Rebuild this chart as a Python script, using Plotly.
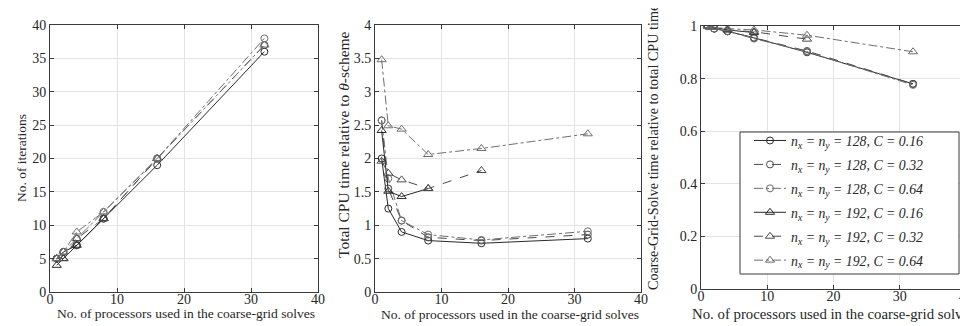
import plotly.graph_objects as go

# ---- data ----
procs = [1, 2, 4, 8, 16, 32]

labels = [
    "<i>n<sub>x</sub> = n<sub>y</sub> = 128, C = 0.16</i>",
    "<i>n<sub>x</sub> = n<sub>y</sub> = 128, C = 0.32</i>",
    "<i>n<sub>x</sub> = n<sub>y</sub> = 128, C = 0.64</i>",
    "<i>n<sub>x</sub> = n<sub>y</sub> = 192, C = 0.16</i>",
    "<i>n<sub>x</sub> = n<sub>y</sub> = 192, C = 0.32</i>",
    "<i>n<sub>x</sub> = n<sub>y</sub> = 192, C = 0.64</i>",
]

iters_128_016 = [5, 6, 7, 11, 19, 36]
iters_128_032 = [5, 6, 7, 11, 20, 37]
iters_128_064 = [5, 6, 8, 12, 20, 38]
iters_192_016 = [4, 5, 7, 11]
iters_192_032 = [5, 5, 8, 11, 20]
iters_192_064 = [5, 6, 9, 12, 20, 37]

cpu_128_016 = [2.00, 1.25, 0.90, 0.77, 0.73, 0.80]
cpu_128_032 = [2.57, 1.55, 1.07, 0.82, 0.77, 0.86]
cpu_128_064 = [2.57, 1.70, 1.07, 0.86, 0.78, 0.91]
cpu_192_016 = [2.42, 1.51, 1.43, 1.55]
cpu_192_032 = [1.96, 1.78, 1.68, 1.55, 1.82]
cpu_192_064 = [3.48, 2.49, 2.44, 2.06, 2.15, 2.37]

cgs_128_016 = [1.00, 0.99, 0.98, 0.955, 0.900, 0.780]
cgs_128_032 = [1.00, 0.99, 0.98, 0.955, 0.905, 0.780]
cgs_128_064 = [1.00, 0.99, 0.98, 0.952, 0.902, 0.776]
cgs_192_016 = [1.00, 0.995, 0.985, 0.975]
cgs_192_032 = [1.00, 0.995, 0.985, 0.978, 0.950]
cgs_192_064 = [1.00, 0.995, 0.99, 0.985, 0.965, 0.902]

panels = [
    [iters_128_016, iters_128_032, iters_128_064, iters_192_016, iters_192_032, iters_192_064],
    [cpu_128_016, cpu_128_032, cpu_128_064, cpu_192_016, cpu_192_032, cpu_192_064],
    [cgs_128_016, cgs_128_032, cgs_128_064, cgs_192_016, cgs_192_032, cgs_192_064],
]

x_ticks = [0, 10, 20, 30, 40]
y_titles = [
    "No. of iterations",
    "Total CPU time relative to <i>θ</i>-scheme",
    "Coarse-Grid-Solve time relative to total CPU time",
]
x_title = "No. of processors used in the coarse-grid solves"

# ---- styles ----
dashes = ["solid", "dash", "dashdot", "solid", "dash", "dashdot"]
colors = ["#2a2a2a", "#4a4a4a", "#6e6e6e", "#2a2a2a", "#4a4a4a", "#6e6e6e"]
symbols = ["circle-open"] * 3 + ["triangle-up-open"] * 3
msizes = [7, 7, 7, 8, 8, 8]

FONT = "Liberation Serif"
TXT = "#262626"
W, H = 968, 326

fig = go.Figure()

axis_ids = [("x", "y"), ("x2", "y2"), ("x3", "y3")]
for p, series in enumerate(panels):
    xa, ya = axis_ids[p]
    for i, vals in enumerate(series):
        fig.add_trace(go.Scatter(
            x=procs[:len(vals)], y=vals,
            mode="lines+markers",
            name=labels[i],
            legendgroup=str(i),
            showlegend=(p == 2),
            line=dict(color=colors[i], width=1, dash=dashes[i]),
            marker=dict(symbol=symbols[i], size=msizes[i], color=colors[i],
                        line=dict(width=1, color=colors[i])),
            xaxis=xa, yaxis=ya,
        ))

common_axis = dict(
    showline=True, linecolor="#3a3a3a", linewidth=1, mirror="ticks",
    showgrid=True, gridcolor="#e3e3e3", gridwidth=1,
    zeroline=False, ticks="inside", ticklen=4, tickcolor="#3a3a3a",
    automargin=False,
)

x_px = [(42, 310), (367, 633), (693, 958)]
y_px = [(17, 284), (17, 284), (18, 281)]
y_ranges = [[0, 40], [0, 4], [0, 1]]
y_dticks = [5, 0.5, 0.2]
tick_sizes = [14, 14, 14]
xt_sizes = [13.5, 13.5, 14.8]
yt_sizes = [13.5, 15.5, 14.2]
ytitle_pos = [(13, 150), (335, 137), (645, 140)]
xtitle_pos = [(178, 305), (502, 306), (825, 306)]

layout = dict(
    width=W, height=H,
    margin=dict(l=0, r=0, t=0, b=0),
    paper_bgcolor="white", plot_bgcolor="white",
    font=dict(family=FONT, color=TXT, size=13),
    legend=dict(
        x=741 / W, y=1 - 117 / H, xanchor="left", yanchor="top",
        bgcolor="rgba(0,0,0,0)", borderwidth=0,
        font=dict(family=FONT, size=13.8, color=TXT),
        itemwidth=32, tracegroupgap=3,
    ),
)

annotations = []
for p in range(3):
    sx = "" if p == 0 else str(p + 1)
    layout["xaxis" + sx] = dict(
        common_axis, domain=[x_px[p][0] / W, x_px[p][1] / W], range=[0, 40],
        tickvals=x_ticks, anchor="y" + sx,
        tickfont=dict(family=FONT, size=tick_sizes[p], color=TXT),
        ticklabelstandoff=-6,
    )
    layout["yaxis" + sx] = dict(
        common_axis, domain=[1 - y_px[p][1] / H, 1 - y_px[p][0] / H],
        range=y_ranges[p], dtick=y_dticks[p], anchor="x" + sx,
        tickfont=dict(family=FONT, size=tick_sizes[p], color=TXT),
    )
    annotations.append(dict(
        text=x_title, xref="paper", yref="paper",
        x=xtitle_pos[p][0] / W, y=1 - xtitle_pos[p][1] / H,
        xanchor="center", yanchor="middle", showarrow=False,
        font=dict(family=FONT, size=xt_sizes[p], color=TXT),
    ))
    annotations.append(dict(
        text=y_titles[p], xref="paper", yref="paper",
        x=ytitle_pos[p][0] / W, y=1 - ytitle_pos[p][1] / H,
        xanchor="center", yanchor="middle", showarrow=False, textangle=-90,
        font=dict(family=FONT, size=yt_sizes[p], color=TXT),
    ))

layout["annotations"] = annotations
layout["shapes"] = [dict(
    type="rect", xref="paper", yref="paper", layer="above",
    x0=732 / W, x1=951 / W, y0=1 - 266 / H, y1=1 - 124 / H,
    line=dict(color="#3a3a3a", width=1), fillcolor="white",
)]

fig.update_layout(**layout)
fig.write_html("out.html")
